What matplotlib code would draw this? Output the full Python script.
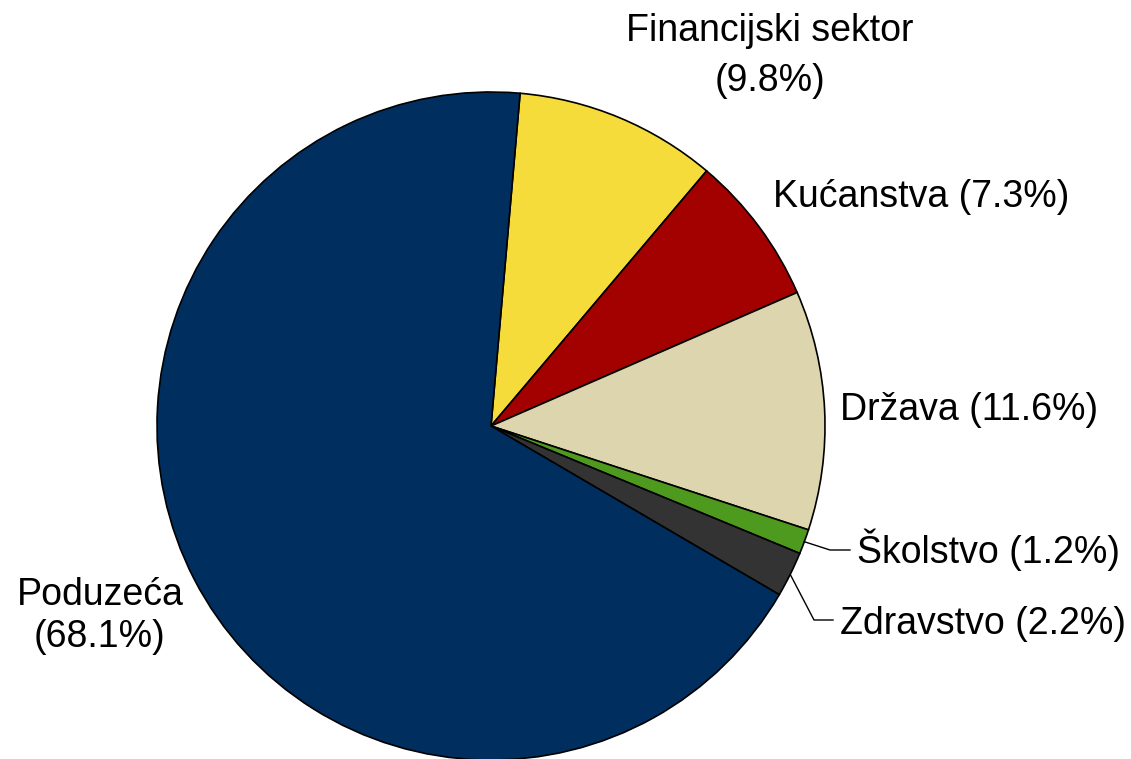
import numpy as np
import matplotlib.pyplot as plt

plt.rcParams['font.family'] = ['Liberation Sans', 'DejaVu Sans']

# data
sektori = ['Financijski sektor', 'Kućanstva', 'Država', 'Školstvo', 'Zdravstvo', 'Poduzeća']
udio = [9.8, 7.3, 11.6, 1.2, 2.2, 68.1]
boje = ['#F6DC3A', '#A30000', '#DDD5AD', '#4E9A1F', '#333333', '#002F5F']

W, H = 1131, 759
cx, cy, R = 491, 426, 334


def px(x, y):
    # pixel -> data (pie radius 1)
    return (x - cx) / R, (cy - y) / R


fig = plt.figure(figsize=(W / 100, H / 100), dpi=100)
ax = fig.add_axes([0, 0, 1, 1])
wedges, _ = ax.pie(udio, colors=boje, startangle=85, counterclock=False,
                   wedgeprops=dict(edgecolor='black', linewidth=1.2))
ax.set_xlim(-cx / R, (W - cx) / R)
ax.set_ylim(-(H - cy) / R, cy / R)
ax.set_aspect('equal')
ax.axis('off')

fs = 27
lab = [s + ' (%.1f%%)' % v for s, v in zip(sektori, udio)]

ax.text(*px(770, 56), 'Financijski sektor\n(9.8%)', ha='center', va='center', fontsize=fs, linespacing=1.47)
ax.text(*px(773, 197), lab[1], ha='left', va='center', fontsize=fs)
ax.text(*px(840, 410), lab[2], ha='left', va='center', fontsize=fs)
ax.text(*px(857, 550), lab[3], ha='left', va='center', fontsize=fs)
ax.text(*px(840, 624), lab[4], ha='left', va='center', fontsize=fs)
ax.text(*px(100, 616), 'Poduzeća\n(68.1%)', ha='center', va='center', fontsize=fs, linespacing=1.21)

# leader lines for small slices
for w, (ex, ey), (hx, hy) in [(wedges[3], (830, 550), (850, 550)),
                              (wedges[4], (814, 620), (833, 620))]:
    a = np.deg2rad((w.theta1 + w.theta2) / 2)
    sx, sy = np.cos(a), np.sin(a)
    p1 = px(ex, ey)
    p2 = px(hx, hy)
    ax.plot([sx, p1[0], p2[0]], [sy, p1[1], p2[1]], color='black', lw=1)

fig.savefig('out.png', dpi=100)
